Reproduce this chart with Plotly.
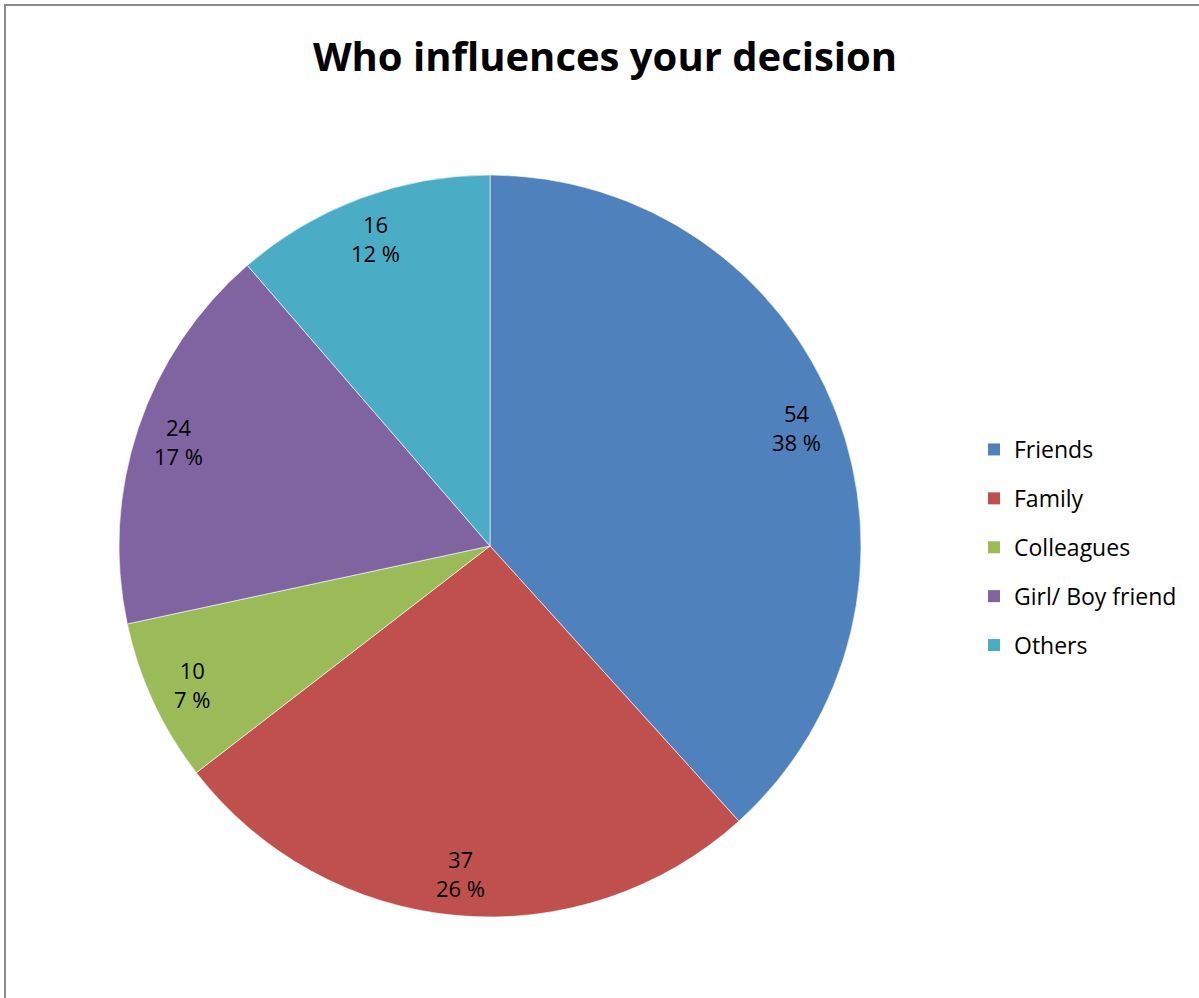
import math
import plotly.graph_objects as go

# Survey answers: who influences the decision
categories = ["Friends", "Family", "Colleagues", "Girl/ Boy friend", "Others"]
counts = [54, 37, 10, 24, 16]
percent_labels = ["38 %", "26 %", "7 %", "17 %", "12 %"]
colors = ["#4F81BD", "#C0504D", "#9BBB59", "#8064A2", "#4BACC6"]

W, H = 1199, 998
CX, CY, R = 490, 546, 371  # pie centre and radius in pixels
FONT = "Open Sans, Liberation Sans, sans-serif"

fig = go.Figure()

fig.add_trace(go.Pie(
    labels=categories,
    values=counts,
    sort=False,
    direction="clockwise",
    rotation=0,
    marker=dict(colors=colors, line=dict(color="rgba(255,255,255,0.6)", width=1)),
    textinfo="none",
    hoverinfo="label+value+percent",
    showlegend=False,
    domain=dict(x=[(CX - R) / W, (CX + R) / W],
                y=[1 - (CY + R) / H, 1 - (CY - R) / H]),
))

# Data labels placed near the outer edge of each slice
total = sum(counts)
cum = 0
annotations = []
for name, v, pct in zip(categories, counts, percent_labels):
    mid = (cum + v / 2) / total * 2 * math.pi
    cum += v
    r = 0.885 * R
    px = CX + r * math.sin(mid)
    py = CY - r * math.cos(mid)
    annotations.append(dict(
        x=px / W, y=1 - py / H, xref="paper", yref="paper",
        text=f"{v}<br>{pct}", showarrow=False,
        font=dict(family=FONT, size=22, color="#000000"),
        align="center", xanchor="center", yanchor="middle",
    ))

# Legend entries as empty square-marker traces, one group each for spacing
for name, c in zip(categories, colors):
    fig.add_trace(go.Scatter(
        x=[None], y=[None], mode="markers", name=name,
        marker=dict(symbol="square", size=14, color=c),
        legendgroup=name, showlegend=True, hoverinfo="skip",
    ))

fig.update_layout(
    width=W, height=H,
    margin=dict(l=0, r=0, t=0, b=0),
    paper_bgcolor="white",
    plot_bgcolor="white",
    xaxis=dict(visible=False),
    yaxis=dict(visible=False),
    title=dict(
        text="<b>Who influences your decision</b>",
        x=605 / W, xanchor="center", y=1 - 57 / H, yanchor="middle",
        font=dict(family=FONT, size=40, color="#000000"),
    ),
    legend=dict(
        x=974 / W, y=1 - 428 / H, xanchor="left", yanchor="top",
        font=dict(family=FONT, size=23, color="#000000"),
        tracegroupgap=16, itemsizing="constant", itemwidth=30,
        bgcolor="rgba(0,0,0,0)",
    ),
    annotations=annotations,
    shapes=[dict(
        type="rect", xref="paper", yref="paper",
        x0=5 / W, x1=1.01, y0=-0.01, y1=1 - 5 / H,
        line=dict(color="#8c8c8c", width=2), fillcolor="rgba(0,0,0,0)",
    )],
)

fig.write_html("out.html")
